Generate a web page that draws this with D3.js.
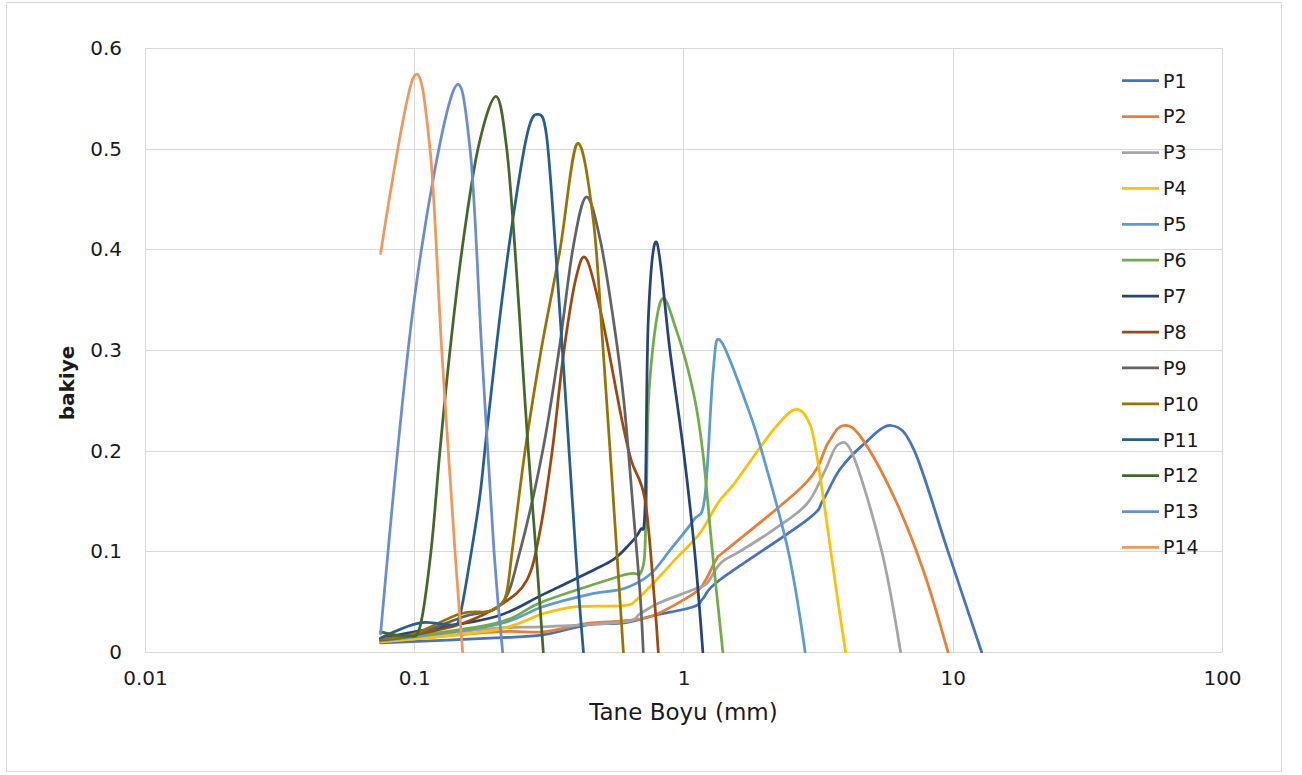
<!DOCTYPE html>
<html>
<head>
<meta charset="utf-8">
<script src="https://cdn.jsdelivr.net/npm/d3@7"></script>
<style>
  body { margin: 0; background: #fff; }
  svg { display: block; font-family: "DejaVu Sans", sans-serif; }
</style>
</head>
<body>
<svg id="chart" width="1302" height="775"></svg>
<script>
'use strict'

// sieve size (mm) and retained fraction
var p1Size = [0.075, 0.2, 0.3, 0.44, 0.6, 0.77, 1.09, 1.18, 1.37, 2.87, 3.3, 3.8, 4.65, 5.9, 7.2, 9.6, 12.8]
var p1Val = [0.009, 0.014, 0.017, 0.027, 0.029, 0.036, 0.045, 0.053, 0.072, 0.131, 0.151, 0.181, 0.206, 0.225, 0.2, 0.1, 0]

var p2Size = [0.075, 0.2, 0.3, 0.44, 0.6, 0.77, 1.09, 1.2, 1.33, 1.45, 2.85, 3.45, 3.92, 4.6, 6.1, 7.8, 9.6]
var p2Val = [0.01, 0.02, 0.02, 0.0285, 0.031, 0.036, 0.058, 0.07, 0.093, 0.102, 0.168, 0.208, 0.225, 0.212, 0.152, 0.08, 0]

var p3Size = [0.075, 0.2, 0.3, 0.6, 0.69, 0.8, 1.09, 1.22, 1.37, 1.62, 2.15, 2.87, 3.35, 3.75, 4.27, 5.45, 6.4]
var p3Val = [0.012, 0.0235, 0.025, 0.03, 0.038, 0.048, 0.062, 0.068, 0.088, 0.1, 0.121, 0.147, 0.18, 0.206, 0.195, 0.1, 0]

var p4Size = [0.075, 0.2, 0.3, 0.4, 0.6, 0.67, 0.77, 0.94, 1.15, 1.35, 1.55, 2.16, 2.62, 2.95, 3.15, 3.4, 3.7, 4.0]
var p4Val = [0.01, 0.022, 0.038, 0.045, 0.046, 0.052, 0.068, 0.093, 0.118, 0.149, 0.168, 0.221, 0.241, 0.226, 0.19, 0.13, 0.06, 0]

var p5Size = [0.075, 0.2, 0.3, 0.46, 0.6, 0.75, 0.89, 1.09, 1.2, 1.29, 1.375, 1.72, 1.95, 2.45, 2.83]
var p5Val = [0.011, 0.027, 0.045, 0.058, 0.063, 0.077, 0.101, 0.131, 0.154, 0.28, 0.309, 0.245, 0.2, 0.1, 0]

var p6Size = [0.075, 0.2, 0.3, 0.6, 0.7, 0.725, 0.745, 0.825, 0.94, 1.09, 1.18, 1.28, 1.4]
var p6Val = [0.012, 0.0285, 0.05, 0.0765, 0.081, 0.13, 0.26, 0.349, 0.32, 0.257, 0.198, 0.1, 0]

var p7Size = [0.075, 0.1, 0.2, 0.3, 0.46, 0.55, 0.62, 0.69, 0.72, 0.74, 0.795, 0.89, 1.0, 1.1, 1.18]
var p7Val = [0.013, 0.02, 0.035, 0.057, 0.081, 0.092, 0.105, 0.121, 0.144, 0.33, 0.407, 0.3, 0.2, 0.1, 0]

var p8Size = [0.075, 0.1, 0.15, 0.21, 0.262, 0.293, 0.3255, 0.36, 0.4, 0.437, 0.5, 0.59, 0.64, 0.72, 0.78, 0.806]
var p8Val = [0.012, 0.017, 0.028, 0.047, 0.0715, 0.12, 0.2, 0.3, 0.373, 0.39, 0.33, 0.231, 0.19, 0.151, 0.052, 0]

var p9Size = [0.075, 0.1, 0.152, 0.211, 0.247, 0.3, 0.345, 0.388, 0.435, 0.49, 0.549, 0.6, 0.651, 0.689, 0.709]
var p9Val = [0.012, 0.017, 0.035, 0.048, 0.1, 0.2, 0.3, 0.4, 0.452, 0.41, 0.33, 0.25, 0.14, 0.06, 0]

var p10Size = [0.075, 0.1, 0.148, 0.186, 0.205, 0.22, 0.231, 0.258, 0.296, 0.348, 0.403, 0.462, 0.503, 0.549, 0.598]
var p10Val = [0.013, 0.018, 0.038, 0.04, 0.045, 0.058, 0.1, 0.2, 0.3, 0.4, 0.505, 0.43, 0.3, 0.151, 0]

var p11Size = [0.075, 0.105, 0.139, 0.148, 0.161, 0.1755, 0.186, 0.208, 0.233, 0.262, 0.285, 0.31, 0.338, 0.368, 0.4, 0.425]
var p11Val = [0.014, 0.029, 0.027, 0.037, 0.091, 0.156, 0.219, 0.333, 0.432, 0.513, 0.534, 0.513, 0.384, 0.237, 0.09, 0]

var p12Size = [0.075, 0.094, 0.105, 0.1154, 0.1246, 0.1358, 0.1505, 0.1725, 0.2012, 0.2205, 0.2367, 0.2506, 0.2652, 0.2833, 0.3015]
var p12Val = [0.02, 0.016, 0.025, 0.1, 0.2, 0.3, 0.4, 0.5, 0.552, 0.5, 0.4, 0.3, 0.2, 0.1, 0]

var p13Size = [0.075, 0.1, 0.139, 0.1611, 0.1781, 0.1978, 0.213]
var p13Val = [0.018, 0.35, 0.556, 0.5, 0.3, 0.1, 0]

var p14Size = [0.075, 0.099, 0.1144, 0.1265, 0.1417, 0.1513]
var p14Val = [0.396, 0.57, 0.5, 0.3, 0.1, 0]

var names = ['P1', 'P2', 'P3', 'P4', 'P5', 'P6', 'P7', 'P8', 'P9', 'P10', 'P11', 'P12', 'P13', 'P14']
var sizes = [p1Size, p2Size, p3Size, p4Size, p5Size, p6Size, p7Size, p8Size, p9Size, p10Size, p11Size, p12Size, p13Size, p14Size]
var values = [p1Val, p2Val, p3Val, p4Val, p5Val, p6Val, p7Val, p8Val, p9Val, p10Val, p11Val, p12Val, p13Val, p14Val]

var xTicks = [0.01, 0.1, 1, 10, 100]
var yTicks = [0, 0.1, 0.2, 0.3, 0.4, 0.5, 0.6]

var colours = ['#4472C4', '#ED7D31', '#A5A5A5', '#FFC000', '#5B9BD5', '#70AD47', '#264478',
  '#9E480E', '#636363', '#997300', '#255E91', '#43682B', '#698ED0', '#F1975A']

var svg = d3.select('#chart')
var plot = { left: 145, right: 1222, top: 48, bottom: 652 }

var x = d3.scaleLog().domain([0.01, 100]).range([plot.left, plot.right])
var y = d3.scaleLinear().domain([0, 0.6]).range([plot.bottom, plot.top])

// chart border
svg.append('rect')
  .attr('x', 6.5).attr('y', 2.5)
  .attr('width', 1275).attr('height', 769)
  .attr('fill', '#fff')
  .attr('stroke', '#d9d9d9')

// gridlines
var grid = svg.append('g').attr('stroke', '#d9d9d9').attr('stroke-width', 1)
grid.selectAll('.h').data(yTicks).enter().append('line')
  .attr('x1', plot.left).attr('x2', plot.right)
  .attr('y1', function(d) { return Math.round(y(d)) + 0.5 })
  .attr('y2', function(d) { return Math.round(y(d)) + 0.5 })
grid.selectAll('.v').data(xTicks).enter().append('line')
  .attr('y1', plot.top).attr('y2', plot.bottom)
  .attr('x1', function(d) { return Math.round(x(d)) + 0.5 })
  .attr('x2', function(d) { return Math.round(x(d)) + 0.5 })

// axes (labels only)
svg.append('g')
  .attr('transform', 'translate(' + plot.left + ',0)')
  .call(d3.axisLeft(y).tickValues(yTicks).tickSize(0).tickPadding(23)
    .tickFormat(function(d) { return String(d) }))
svg.append('g')
  .attr('transform', 'translate(0,' + plot.bottom + ')')
  .call(d3.axisBottom(x).tickValues(xTicks).tickSize(0).tickPadding(19)
    .tickFormat(function(d) { return String(d) }))

svg.selectAll('.domain').remove()
svg.selectAll('.tick text')
  .attr('font-family', '"DejaVu Sans", sans-serif')
  .attr('font-size', 20)
  .attr('fill', '#1a1a1a')

// axis titles
svg.append('text')
  .attr('x', (plot.left + plot.right) / 2)
  .attr('y', 720)
  .attr('text-anchor', 'middle')
  .attr('font-size', 23)
  .attr('fill', '#1a1a1a')
  .text('Tane Boyu (mm)')

svg.append('text')
  .attr('transform', 'translate(74,383) rotate(-90)')
  .attr('text-anchor', 'middle')
  .attr('font-size', 20)
  .attr('font-weight', 'bold')
  .attr('fill', '#1a1a1a')
  .text('bakiye')

// series
svg.append('clipPath').attr('id', 'plotclip')
  .append('rect')
  .attr('x', plot.left).attr('y', plot.top - 2)
  .attr('width', plot.right - plot.left).attr('height', plot.bottom - plot.top + 3)

var line = d3.line()
  .x(function(d) { return x(d[0]) })
  .y(function(d) { return y(d[1]) })
  .curve(d3.curveCardinal.tension(0))

var series = names.map(function(name, i) {
  return { name: name, colour: colours[i], points: d3.zip(sizes[i], values[i]) }
})

svg.append('g')
  .attr('clip-path', 'url(#plotclip)')
  .selectAll('path')
  .data(series)
  .enter().append('path')
  .attr('d', function(d) { return line(d.points) })
  .attr('fill', 'none')
  .attr('stroke', function(d) { return d.colour })
  .attr('stroke-width', 2.75)
  .attr('stroke-linejoin', 'round')
  .attr('stroke-linecap', 'round')

// legend
var legend = svg.append('g')
  .selectAll('g')
  .data(series)
  .enter().append('g')
  .attr('transform', function(d, i) { return 'translate(1122,' + (80.7 + i * 35.9) + ')' })

legend.append('line')
  .attr('x1', 0).attr('x2', 37)
  .attr('stroke', function(d) { return d.colour })
  .attr('stroke-width', 2.75)

legend.append('text')
  .attr('x', 41)
  .attr('dy', '0.36em')
  .attr('font-size', 19)
  .attr('fill', '#1a1a1a')
  .text(function(d) { return d.name })
</script>
</body>
</html>
